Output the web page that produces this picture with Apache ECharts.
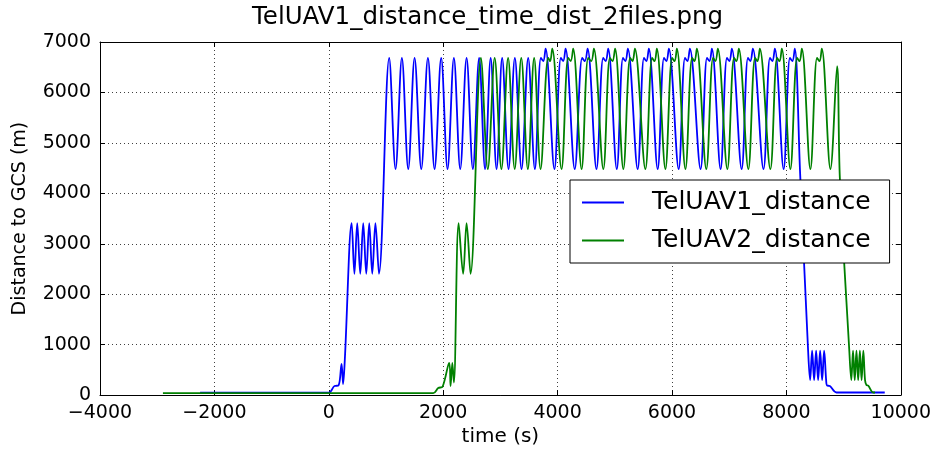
<!DOCTYPE html>
<html>
<head>
<meta charset="utf-8">
<script src="https://cdn.jsdelivr.net/npm/echarts@6/dist/echarts.min.js"></script>
<style>
html,body{margin:0;padding:0;background:#fff;}
#chart{width:934px;height:452px;}
</style>
</head>
<body>
<div id="chart"></div>
<script>
var chartTitle = 'TelUAV1_distance_time_dist_2files.png';
var seriesNames = ['TelUAV1_distance', 'TelUAV2_distance'];
var xTicks = [-4000, -2000, 0, 2000, 4000, 6000, 8000, 10000];
var yTicks = [0, 1000, 2000, 3000, 4000, 5000, 6000, 7000];

var uav1Time = [
  -2250, 0, 100, 170, 223, 250, 280,
  400, 448, 497, 550, 602, 655, 707, 760, 815, 877,
  1056, 1167, 1278, 1389, 1500, 1617, 1733, 1849, 1965, 2076, 2187, 2298,
  2409, 2519, 2629, 2732, 2830, 2933, 3031, 3142, 3253, 3370, 3486, 3603,
  3708, 3750, 3790, 3945, 4057, 4098, 4139, 4300, 4430, 4477, 4524, 4680,
  4797, 4840, 4884, 5035, 5143, 5185, 5228, 5400, 5510, 5552, 5595, 5750,
  5860, 5902, 5945, 6117, 6227, 6270, 6312, 6500, 6612, 6655, 6697, 6850,
  6961, 7003, 7046, 7218, 7328, 7370, 7413, 7600, 7713, 7755, 7798, 7952,
  8062, 8105, 8147,
  8240, 8380, 8415, 8450, 8485, 8520, 8555, 8590, 8625, 8660, 8695,
  8710, 8760, 8876, 9720
];
var uav1Dist = [
  50, 50, 180, 190, 620, 220, 700,
  3409, 2405, 3409, 2405, 3409, 2405, 3409, 2405, 3409, 2405,
  6683, 4480, 6683, 4480, 6683, 4480, 6683, 4480, 6683, 4480, 6683, 4480,
  6683, 4480, 6683, 4480, 6683, 4480, 6683, 4480, 6683, 4480, 6683, 4480,
  6683, 6620, 6870, 4480, 6683, 6620, 6870, 4480, 6683, 6620, 6870, 4480,
  6683, 6620, 6870, 4480, 6683, 6620, 6870, 4480, 6683, 6620, 6870, 4480,
  6683, 6620, 6870, 4480, 6683, 6620, 6870, 4480, 6683, 6620, 6870, 4480,
  6683, 6620, 6870, 4480, 6683, 6620, 6870, 4480, 6683, 6620, 6870, 4480,
  6683, 6620, 6870,
  4400, 880, 298, 880, 298, 880, 298, 880, 298, 880, 298,
  190, 180, 52, 52
];

var uav2Time = [
  -2900, 1826, 1913, 1990, 2105, 2129, 2160, 2187,
  2270, 2349, 2409, 2478,
  2659, 2780, 2900, 3018, 3135, 3250, 3365, 3480, 3590, 3702,
  3836, 3870, 3906, 4069, 4185, 4230, 4272, 4420, 4535, 4590, 4634, 4800,
  4914, 4960, 5005, 5150, 5268, 5310, 5351, 5535, 5652, 5695, 5735, 5885,
  6002, 6045, 6085, 6235, 6352, 6395, 6434, 6600, 6718, 6760, 6801, 6968,
  7085, 7128, 7168, 7335, 7452, 7495, 7535, 7720, 7837, 7880, 7920, 8070,
  8187, 8230, 8270, 8420, 8536, 8580, 8619, 8770,
  8887, 8935, 9100, 9135, 9165, 9195, 9225, 9255, 9285, 9315, 9345, 9375,
  9400, 9430, 9516, 9550
];
var uav2Dist = [
  40, 40, 140, 170, 640, 180, 640, 250,
  3409, 2405, 3409, 2405,
  6683, 4480, 6683, 4480, 6683, 4480, 6683, 4480, 6683, 4480,
  6683, 6620, 6870, 4480, 6683, 6620, 6870, 4480, 6683, 6620, 6870, 4480,
  6683, 6620, 6870, 4480, 6683, 6620, 6870, 4480, 6683, 6620, 6870, 4480,
  6683, 6620, 6870, 4480, 6683, 6620, 6870, 4480, 6683, 6620, 6870, 4480,
  6683, 6620, 6870, 4480, 6683, 6620, 6870, 4480, 6683, 6620, 6870, 4480,
  6683, 6620, 6870, 4480, 6683, 6620, 6870, 4480,
  6520, 4300, 880, 298, 880, 298, 880, 298, 880, 298, 880, 298,
  200, 190, 52, 52
];

function zip(a, b) {
  var out = [];
  for (var i = 0; i < a.length; i++) out.push([a[i], b[i]]);
  return out;
}

var FONT = 'DejaVu Sans';
var chart = echarts.init(document.getElementById('chart'), null, {renderer: 'canvas'});

function fmtX(v) { return v < 0 ? '\u2212' + Math.abs(v) : String(v); }
function fmtY(v) { return String(v); }

var gridLine = {show: true, lineStyle: {color: '#000', type: [1, 3], width: 1, opacity: 0.75}};

chart.setOption({
  animation: false,
  backgroundColor: '#fff',
  title: {
    text: chartTitle,
    left: 252,
    top: 5,
    padding: 0,
    textStyle: {fontFamily: FONT, fontSize: 24.5, fontWeight: 'normal', color: '#000'}
  },
  grid: {left: 100, right: 33, top: 42, bottom: 50, show: false},
  legend: {
    orient: 'vertical',
    left: 570,
    top: 180,
    data: seriesNames,
    icon: 'rect',
    itemWidth: 42,
    itemHeight: 2,
    itemGap: 13,
    padding: [10, 19, 10, 12],
    backgroundColor: '#fff',
    borderColor: '#000',
    borderWidth: 1,
    borderRadius: 0,
    textStyle: {fontFamily: FONT, fontSize: 25, color: '#000', padding: [0, 0, 0, 23]}
  },
  xAxis: [{
    type: 'value', min: xTicks[0], max: xTicks[xTicks.length - 1], interval: 2000,
    name: 'time (s)', nameLocation: 'middle', nameGap: 30,
    nameTextStyle: {fontFamily: FONT, fontSize: 20, color: '#000'},
    axisLine: {show: true, onZero: false, lineStyle: {color: '#000', width: 1}},
    axisTick: {show: true, inside: true, length: 5, lineStyle: {color: '#000'}},
    axisLabel: {fontFamily: FONT, fontSize: 19, color: '#000', margin: 8, formatter: fmtX},
    splitLine: gridLine
  }, {
    type: 'value', position: 'top', min: xTicks[0], max: xTicks[xTicks.length - 1], interval: 2000,
    axisLine: {show: true, onZero: false, lineStyle: {color: '#000', width: 1}},
    axisTick: {show: true, inside: true, length: 5, lineStyle: {color: '#000'}},
    axisLabel: {show: false}, splitLine: {show: false}
  }],
  yAxis: [{
    type: 'value', min: yTicks[0], max: yTicks[yTicks.length - 1], interval: 1000,
    name: 'Distance to GCS (m)', nameLocation: 'middle', nameGap: 70, nameRotate: 90,
    nameTextStyle: {fontFamily: FONT, fontSize: 19, color: '#000'},
    axisLine: {show: true, onZero: false, lineStyle: {color: '#000', width: 1}},
    axisTick: {show: true, inside: true, length: 5, lineStyle: {color: '#000'}},
    axisLabel: {fontFamily: FONT, fontSize: 19, color: '#000', margin: 9, formatter: fmtY},
    splitLine: gridLine
  }, {
    type: 'value', position: 'right', min: yTicks[0], max: yTicks[yTicks.length - 1], interval: 1000,
    axisLine: {show: true, onZero: false, lineStyle: {color: '#000', width: 1}},
    axisTick: {show: true, inside: true, length: 5, lineStyle: {color: '#000'}},
    axisLabel: {show: false}, splitLine: {show: false}
  }],
  series: [{
    name: seriesNames[0], type: 'line', data: zip(uav1Time, uav1Dist),
    showSymbol: false, symbol: 'none', smooth: 0.35,
    color: '#0000ff', lineStyle: {color: '#0000ff', width: 1.8}
  }, {
    name: seriesNames[1], type: 'line', data: zip(uav2Time, uav2Dist),
    showSymbol: false, symbol: 'none', smooth: 0.35,
    color: '#008000', lineStyle: {color: '#008000', width: 1.8}
  }]
});
</script>
</body>
</html>
